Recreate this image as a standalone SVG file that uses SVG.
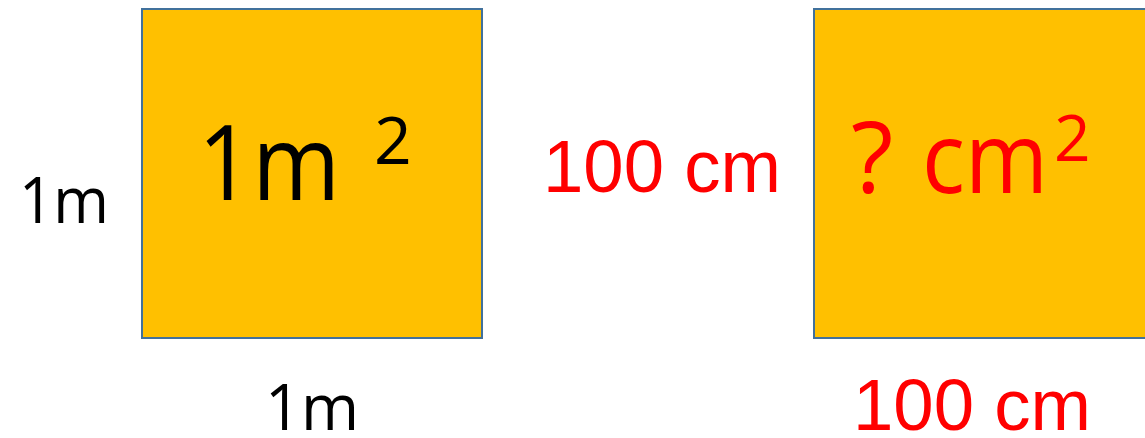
<svg xmlns="http://www.w3.org/2000/svg" width="1145" height="438" viewBox="0 0 1145 438">
<style>
.sq{fill:#FFC000;stroke:#41719C;stroke-width:2}
.k{font-family:"Open Sans","Liberation Sans",sans-serif;fill:#000}
.r{font-family:"Liberation Sans","DejaVu Sans",sans-serif;fill:#FF0000}
.rc{font-family:"Open Sans","Liberation Sans",sans-serif;fill:#FF0000}
</style>
<rect width="1145" height="438" fill="#fff"/>
<g id="square-m">
<rect class="sq" x="142" y="9" width="340" height="329"/>
<text class="k" x="198" y="200" font-size="104" textLength="142" lengthAdjust="spacingAndGlyphs">1m</text>
<text class="k" x="374" y="164" font-size="66">2</text>
</g>
<g id="square-cm">
<rect class="sq" x="814" y="9" width="340" height="329"/>
<text class="rc" x="851" y="193" font-size="98">?</text>
<text class="rc" x="922" y="193" font-size="98" textLength="126" lengthAdjust="spacingAndGlyphs">cm</text>
<text class="rc" x="1054" y="161" font-size="64">2</text>
</g>
<g id="labels">
<text class="k" x="19" y="223" font-size="64" textLength="90" lengthAdjust="spacingAndGlyphs">1m</text>
<text class="k" x="265" y="430" font-size="64" textLength="94" lengthAdjust="spacingAndGlyphs">1m</text>
<text class="r" x="543" y="192" font-size="74" textLength="238" lengthAdjust="spacingAndGlyphs">100 cm</text>
<text class="r" x="853" y="430" font-size="72" textLength="238" lengthAdjust="spacingAndGlyphs">100 cm</text>
</g>
</svg>
